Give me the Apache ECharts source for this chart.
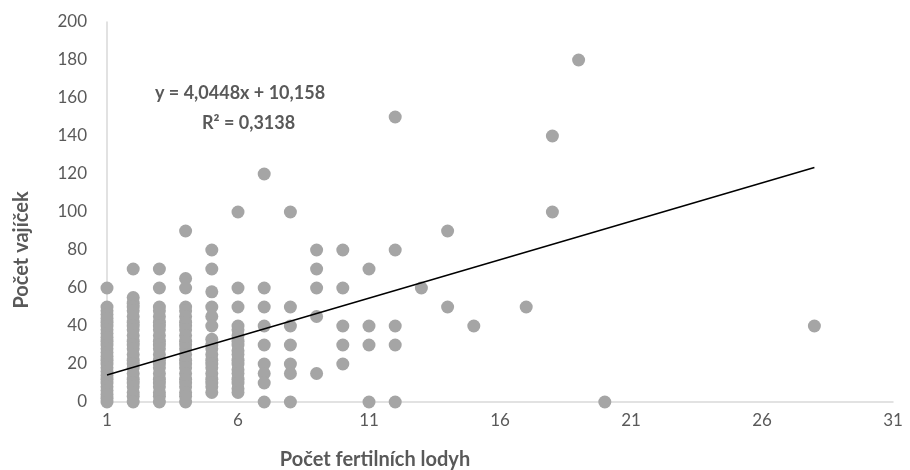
<!DOCTYPE html>
<html>
<head>
<meta charset="utf-8">
<script src="https://cdn.jsdelivr.net/npm/echarts@6/dist/echarts.min.js"></script>
<style>html,body{margin:0;padding:0;background:#fff}#c{width:910px;height:470px}</style>
</head>
<body>
<div id="c"></div>
<script>
// Počet vajíček per number of fertile stems (x)
const stems1 = [60,50,48,46,44,42,40,38,36,34,32,30,28,26,24,22,20,18,16,14,12,10,8,6,4,2,0];
const stems2 = [70,55,52,50,48,45,42,40,38,35,32,30,28,25,22,20,18,15,12,10,8,5,3,0];
const stems3 = [70,60,50,48,45,42,40,38,35,32,30,28,25,22,20,18,15,12,10,8,5,3,0];
const stems4 = [90,65,60,50,48,45,42,40,38,35,32,30,28,25,22,20,18,15,12,10,8,5,3,0];
const stems5 = [80,70,58,50,45,40,33,30,28,25,22,20,18,15,12,10,8,5];
const stems6 = [100,60,50,40,38,35,32,30,27,25,22,20,17,15,12,10,7,5];
const stems7 = [120,60,50,40,30,20,15,10,0];
const stems8 = [100,50,40,30,20,15,0];
const stems9 = [80,70,60,45,15];
const stems10 = [80,60,40,30,20];
const stems11 = [70,40,30,0];
const stems12 = [150,80,40,30,0];
const stems13 = [60];
const stems14 = [90,50];
const stems15 = [40];
const stems17 = [50];
const stems18 = [140,100];
const stems19 = [180];
const stems20 = [0];
const stems28 = [40];

const xTicks = [1, 6, 11, 16, 21, 26, 31];
const yTicks = [0, 20, 40, 60, 80, 100, 120, 140, 160, 180, 200];

const slope = 4.0448;
const intercept = 10.158;
const trendFrom = 1;
const trendTo = 28;

const columns = [
  [1, stems1], [2, stems2], [3, stems3], [4, stems4], [5, stems5], [6, stems6],
  [7, stems7], [8, stems8], [9, stems9], [10, stems10], [11, stems11], [12, stems12],
  [13, stems13], [14, stems14], [15, stems15], [17, stems17], [18, stems18],
  [19, stems19], [20, stems20], [28, stems28]
];
const points = [];
columns.forEach(([x, ys]) => ys.forEach(y => points.push([x, y])));
const trend = [[trendFrom, slope*trendFrom+intercept], [trendTo, slope*trendTo+intercept]];

const FONT = 'Lato, "Open Sans", sans-serif';
const chart = echarts.init(document.getElementById('c'));
chart.setOption({
  animation: false,
  backgroundColor: '#fff',
  grid: {left: 107, right: 17, top: 22, bottom: 68},
  xAxis: {
    type: 'value', min: xTicks[0], max: xTicks[xTicks.length-1], interval: 5,
    axisLine: {show: true, lineStyle: {color: '#d9d9d9', width: 1.5}},
    axisTick: {show: false}, splitLine: {show: false},
    axisLabel: {color: '#595959', fontSize: 17, fontFamily: FONT, margin: 10}
  },
  yAxis: {
    type: 'value', min: yTicks[0], max: yTicks[yTicks.length-1], interval: 20,
    axisLine: {show: true, lineStyle: {color: '#d9d9d9', width: 1.5}},
    axisTick: {show: false}, splitLine: {show: false},
    axisLabel: {color: '#595959', fontSize: 17, fontFamily: FONT, margin: 20}
  },
  series: [
    {type: 'scatter', data: points, symbolSize: 13, itemStyle: {color: '#a5a5a5', opacity: 1}, z: 2},
    {type: 'line', data: trend, symbol: 'none', lineStyle: {color: '#000', width: 1.5}, z: 3}
  ],
  graphic: [
    {type: 'text', x: 155, y: 93, style: {text: 'y = 4,0448x + 10,158', fill: '#595959', font: 'bold 18px ' + FONT, align: 'left', verticalAlign: 'middle'}},
    {type: 'text', x: 202, y: 123, style: {text: 'R² = 0,3138', fill: '#595959', font: 'bold 18px ' + FONT, align: 'left', verticalAlign: 'middle'}},
    {type: 'text', x: 375, y: 460, style: {text: 'Počet fertilních lodyh', fill: '#595959', font: 'bold 20px ' + FONT, align: 'center', verticalAlign: 'middle'}},
    {type: 'text', x: 22, y: 250, rotation: Math.PI/2, style: {text: 'Počet vajíček', fill: '#595959', font: 'bold 20px ' + FONT, align: 'center', verticalAlign: 'middle'}}
  ]
});
</script>
</body>
</html>
